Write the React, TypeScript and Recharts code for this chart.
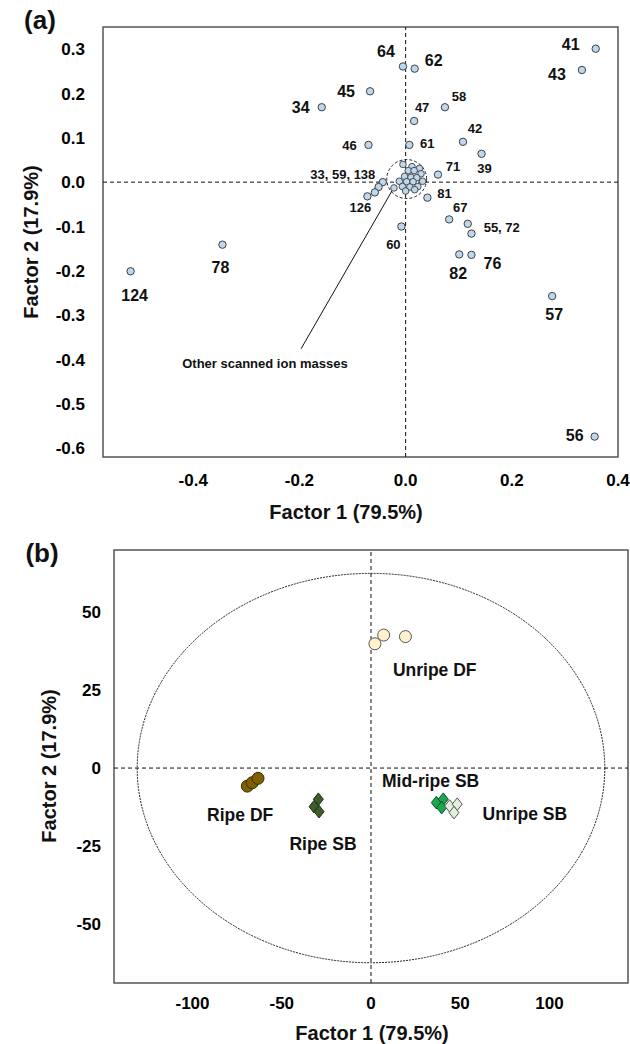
import React from "react";
import {
  ScatterChart,
  Scatter,
  XAxis,
  YAxis,
  ReferenceLine,
  ReferenceArea,
  ReferenceDot,
} from "recharts";

// ---------- (a) loadings ----------
const ionNames = [
  "41", "43", "64", "62", "45", "34", "58", "47", "42", "39", "46", "61", "71", "81",
  "67", "55", "72", "60", "82", "76", "57", "56", "124", "78", "33", "59", "138", "126",
];
const ionFactor1 = [
  0.358, 0.332, -0.005, 0.017, -0.067, -0.158, 0.074, 0.016, 0.108, 0.143, -0.07, 0.007, 0.061, 0.041,
  0.082, 0.117, 0.124, -0.008, 0.101, 0.124, 0.276, 0.356, -0.518, -0.345, -0.043, -0.051, -0.058, -0.072,
];
const ionFactor2 = [
  0.301, 0.253, 0.261, 0.256, 0.205, 0.169, 0.169, 0.138, 0.091, 0.064, 0.084, 0.084, 0.017, -0.035,
  -0.084, -0.094, -0.116, -0.1, -0.163, -0.164, -0.257, -0.574, -0.201, -0.141, 0.0, -0.011, -0.023, -0.032,
];
// text shown next to an ion ("" = no label, grouped with a neighbour)
const ionLabels = [
  "41", "43", "64", "62", "45", "34", "58", "47", "42", "39", "46", "61", "71", "81",
  "67", "55, 72", "", "60", "82", "76", "57", "56", "124", "78", "33, 59, 138", "", "", "126",
];

const otherFactor1 = [
  -0.005, 0.012, 0.026, 0.005, 0.016, 0.029, -0.002, 0.01, 0.021, -0.012, 0.002, 0.014, 0.032, -0.006,
  0.008, 0.023, -0.022, 0.0, 0.017,
];
const otherFactor2 = [
  0.04, 0.035, 0.031, 0.026, 0.026, 0.019, 0.013, 0.011, 0.01, 0.002, 0.001, 0.001, 0.002, -0.01,
  -0.011, -0.01, -0.013, -0.02, -0.017,
];

const X_TICKS_A = [-0.4, -0.2, 0, 0.2, 0.4];
const Y_TICKS_A = [-0.6, -0.5, -0.4, -0.3, -0.2, -0.1, 0, 0.1, 0.2, 0.3];
const X_DOMAIN_A: [number, number] = [-0.57, 0.4];
const Y_DOMAIN_A: [number, number] = [-0.62, 0.35];

// ---------- (b) scores ----------
const ripeDfF1 = [-69.3, -66.5, -63.3];
const ripeDfF2 = [-5.8, -4.7, -3.3];
const unripeDfF1 = [2.2, 7.1, 19.3];
const unripeDfF2 = [39.9, 42.7, 42.2];
const ripeSbF1 = [-29.5, -31.9, -29.1];
const ripeSbF2 = [-10.0, -12.4, -14.0];
const midSbF1 = [36.6, 40.5, 39.6];
const midSbF2 = [-11.1, -10.0, -12.7];
const unripeSbF1 = [44.1, 48.3, 46.5];
const unripeSbF2 = [-12.2, -11.6, -14.3];

const X_TICKS_B = [-100, -50, 0, 50, 100];
const Y_TICKS_B = [-50, -25, 0, 25, 50];
const X_DOMAIN_B: [number, number] = [-144, 144];
const Y_DOMAIN_B: [number, number] = [-69, 70];

// label placement (pixels from the marker)
const LABEL_STYLE: Record<string, { dx: number; dy: number; size: number }> = {
  "41": { dx: -25, dy: -4, size: 16 },
  "43": { dx: -25, dy: 4, size: 16 },
  "64": { dx: -17, dy: -15, size: 16 },
  "62": { dx: 19, dy: -8, size: 16 },
  "45": { dx: -24, dy: 0, size: 16 },
  "34": { dx: -21, dy: 0, size: 16 },
  "58": { dx: 14, dy: -11, size: 13 },
  "47": { dx: 8, dy: -13, size: 13 },
  "42": { dx: 12, dy: -13, size: 13 },
  "39": { dx: 3, dy: 15, size: 13 },
  "46": { dx: -19, dy: 1, size: 13 },
  "61": { dx: 18, dy: -1, size: 13 },
  "71": { dx: 15, dy: -8, size: 13 },
  "81": { dx: 17, dy: -4, size: 13 },
  "67": { dx: 11, dy: -12, size: 13 },
  "55, 72": { dx: 34, dy: 4, size: 13 },
  "60": { dx: -8, dy: 18, size: 13 },
  "82": { dx: -1, dy: 19, size: 16 },
  "76": { dx: 21, dy: 9, size: 16 },
  "57": { dx: 2, dy: 18, size: 16 },
  "56": { dx: -20, dy: -1, size: 16 },
  "124": { dx: 4, dy: 24, size: 16 },
  "78": { dx: -2, dy: 23, size: 16 },
  "33, 59, 138": { dx: -40, dy: -8, size: 13 },
  "126": { dx: -7, dy: 11, size: 13 },
};

// annotation anchors in data units
const B_LABELS = [
  { text: "Unripe DF", x: 35.7, y: 31.5 },
  { text: "Mid-ripe SB", x: 33.4, y: -4.2 },
  { text: "Ripe DF", x: -73.3, y: -14.9 },
  { text: "Ripe SB", x: -26.9, y: -24.3 },
  { text: "Unripe SB", x: 86.2, y: -14.7 },
];

const FONT = "'Liberation Sans', Arial, sans-serif";
const FRAME = "#555";
const DOT_FILL = "#bdd7ee";
const DOT_STROKE = "#404040";

const namedIons = ionNames.map((name, i) => ({
  name,
  x: ionFactor1[i],
  y: ionFactor2[i],
  label: ionLabels[i],
}));
const otherIons = otherFactor1.map((x, i) => ({ x, y: otherFactor2[i] }));

const toPoints = (xs: number[], ys: number[]) => xs.map((x, i) => ({ x, y: ys[i] }));

const tickStyle = { fontSize: 17, fontWeight: 700, fill: "#000", fontFamily: FONT };

const LabelledDot = (props: any) => {
  const { cx, cy, payload } = props;
  const st = LABEL_STYLE[payload.label];
  return (
    <g>
      <circle cx={cx} cy={cy} r={3.7} fill={DOT_FILL} stroke={DOT_STROKE} strokeWidth={1} />
      {payload.label && st && (
        <text
          x={cx + st.dx}
          y={cy + st.dy}
          textAnchor="middle"
          dominantBaseline="central"
          fontSize={st.size}
          fontWeight={700}
          fontFamily={FONT}
          fill="#111"
        >
          {payload.label}
        </text>
      )}
    </g>
  );
};

const SmallDot = (props: any) => (
  <circle cx={props.cx} cy={props.cy} r={3.3} fill={DOT_FILL} stroke={DOT_STROKE} strokeWidth={0.9} />
);

const EllipseShape = (props: any) => {
  const { x, y, width, height } = props;
  return (
    <ellipse
      cx={x + width / 2}
      cy={y + height / 2}
      rx={Math.abs(width) / 2}
      ry={Math.abs(height) / 2}
      fill="none"
      stroke="#222"
      strokeWidth={1}
      strokeDasharray={props.dash || "3 2"}
    />
  );
};

const makeCircle = (fill: string, stroke: string) => (props: any) => (
  <circle cx={props.cx} cy={props.cy} r={6} fill={fill} stroke={stroke} strokeWidth={1} />
);
const makeDiamond = (fill: string, stroke: string) => (props: any) => {
  const { cx, cy } = props;
  const w = 5;
  const h = 6.3;
  return (
    <path
      d={`M${cx},${cy - h} L${cx + w},${cy} L${cx},${cy + h} L${cx - w},${cy} Z`}
      fill={fill}
      stroke={stroke}
      strokeWidth={1}
    />
  );
};

const Title = ({ text, x, y, rotate = false, size = 20 }: any) => (
  <div
    style={{
      position: "absolute",
      left: x,
      top: y,
      transform: `translate(-50%, -50%)${rotate ? " rotate(-90deg)" : ""}`,
      whiteSpace: "nowrap",
      fontFamily: FONT,
      fontWeight: 700,
      fontSize: size,
      lineHeight: 1,
      color: "#111",
    }}
  >
    {text}
  </div>
);

export default function App() {
  return (
    <div style={{ position: "absolute", left: 0, top: 0, width: 630, height: 1044, background: "#fff" }}>
      <div style={{ position: "absolute", left: 0, top: 0 }}>
        <ScatterChart width={630} height={500} margin={{ top: 27, right: 12, bottom: 0, left: 0 }}>
          <XAxis
            type="number"
            dataKey="x"
            domain={X_DOMAIN_A}
            ticks={X_TICKS_A}
            tickFormatter={(v: number) => v.toFixed(1)}
            axisLine={false}
            tickLine={false}
            tickSize={0}
            tickMargin={17}
            height={43}
            tick={tickStyle}
            allowDataOverflow
          />
          <YAxis
            type="number"
            dataKey="y"
            domain={Y_DOMAIN_A}
            ticks={Y_TICKS_A}
            tickFormatter={(v: number) => v.toFixed(1)}
            axisLine={false}
            tickLine={false}
            tickSize={0}
            tickMargin={18}
            width={103}
            tick={tickStyle}
            allowDataOverflow
          />
          <ReferenceLine x={0} stroke="#111" strokeDasharray="4 3" strokeWidth={1} />
          <ReferenceLine y={0} stroke="#111" strokeDasharray="4 3" strokeWidth={1} />
          <ReferenceArea
            x1={0.002 - 0.0376}
            x2={0.002 + 0.0376}
            y1={0.007 - 0.044}
            y2={0.007 + 0.044}
            shape={(p: any) => <EllipseShape {...p} dash="3 2" />}
          />
          <ReferenceLine
            segment={[
              { x: -0.197, y: -0.376 },
              { x: -0.022, y: -0.012 },
            ]}
            stroke="#111"
            strokeWidth={1}
          />
          <ReferenceDot
            x={-0.265}
            y={-0.409}
            r={0}
            fill="none"
            stroke="none"
            label={{
              value: "Other scanned ion masses",
              position: "center",
              fontSize: 13,
              fontWeight: 700,
              fontFamily: FONT,
              fill: "#111",
            }}
          />
          <Scatter data={otherIons} shape={SmallDot} isAnimationActive={false} />
          <Scatter data={namedIons} shape={LabelledDot} isAnimationActive={false} />
          <ReferenceArea
            x1={X_DOMAIN_A[0]}
            x2={X_DOMAIN_A[1]}
            y1={Y_DOMAIN_A[0]}
            y2={Y_DOMAIN_A[1]}
            fill="none"
            fillOpacity={0}
            stroke={FRAME}
            strokeWidth={1.5}
          />
        </ScatterChart>
      </div>

      <div style={{ position: "absolute", left: 0, top: 500 }}>
        <ScatterChart width={630} height={544} margin={{ top: 50, right: 2, bottom: 0, left: 0 }}>
          <XAxis
            type="number"
            dataKey="x"
            domain={X_DOMAIN_B}
            ticks={X_TICKS_B}
            axisLine={false}
            tickLine={false}
            tickSize={0}
            tickMargin={14}
            height={61}
            tick={tickStyle}
            allowDataOverflow
          />
          <YAxis
            type="number"
            dataKey="y"
            domain={Y_DOMAIN_B}
            ticks={Y_TICKS_B}
            axisLine={false}
            tickLine={false}
            tickSize={0}
            tickMargin={13}
            width={114}
            tick={tickStyle}
            allowDataOverflow
          />
          <ReferenceLine x={0} stroke="#111" strokeDasharray="4 3" strokeWidth={1} />
          <ReferenceLine y={0} stroke="#111" strokeDasharray="4 3" strokeWidth={1} />
          <ReferenceArea
            x1={-131}
            x2={131}
            y1={-62.5}
            y2={62.5}
            shape={(p: any) => <EllipseShape {...p} dash="2 1" />}
          />
          <Scatter data={toPoints(ripeDfF1, ripeDfF2)} shape={makeCircle("#7f6000", "#3a2c00")} isAnimationActive={false} />
          <Scatter data={toPoints(unripeDfF1, unripeDfF2)} shape={makeCircle("#fff2cc", "#555")} isAnimationActive={false} />
          <Scatter data={toPoints(ripeSbF1, ripeSbF2)} shape={makeDiamond("#3b5e2b", "#1c2c14")} isAnimationActive={false} />
          <Scatter data={toPoints(midSbF1, midSbF2)} shape={makeDiamond("#19a74f", "#124d27")} isAnimationActive={false} />
          <Scatter data={toPoints(unripeSbF1, unripeSbF2)} shape={makeDiamond("#e2efda", "#555")} isAnimationActive={false} />
          {B_LABELS.map((l) => (
            <ReferenceDot
              key={l.text}
              x={l.x}
              y={l.y}
              r={0}
              fill="none"
              stroke="none"
              label={{
                value: l.text,
                position: "center",
                fontSize: 17.5,
                fontWeight: 700,
                fontFamily: FONT,
                fill: "#111",
              }}
            />
          ))}
          <ReferenceArea
            x1={X_DOMAIN_B[0]}
            x2={X_DOMAIN_B[1]}
            y1={Y_DOMAIN_B[0]}
            y2={Y_DOMAIN_B[1]}
            fill="none"
            fillOpacity={0}
            stroke={FRAME}
            strokeWidth={1.5}
          />
        </ScatterChart>
      </div>

      <Title text="(a)" x={40} y={20} size={26} />
      <Title text="(b)" x={42} y={553} size={26} />
      <Title text="Factor 2 (17.9%)" x={31} y={242} rotate size={20} />
      <Title text="Factor 1 (79.5%)" x={346} y={512} size={20} />
      <Title text="Factor 2 (17.9%)" x={49} y={766} rotate size={20} />
      <Title text="Factor 1 (79.5%)" x={372} y={1033} size={20} />
    </div>
  );
}
